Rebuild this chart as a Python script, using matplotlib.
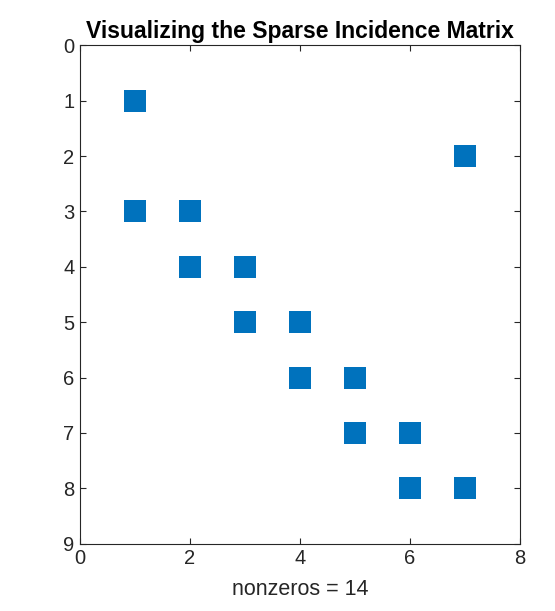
import numpy as np
import matplotlib
matplotlib.use('Agg')
import matplotlib.pyplot as plt

plt.rcParams['font.family'] = ['Liberation Sans', 'DejaVu Sans']

# nonzero entries of the incidence matrix (column, row)
cols = [1, 7, 1, 2, 2, 3, 3, 4, 4, 5, 5, 6, 6, 7]
rows = [1, 2, 3, 3, 4, 4, 5, 5, 6, 6, 7, 7, 8, 8]
xticks = [0, 2, 4, 6, 8]
yticks = [0, 1, 2, 3, 4, 5, 6, 7, 8, 9]

fig = plt.figure(figsize=(5.55, 6.11), dpi=100)
ax = fig.add_axes([0.144, 0.110, 0.793, 0.816])

ax.plot(cols, rows, 's', color='#0072BD', markersize=15.5, markeredgewidth=0)

ax.set_xlim(0, 8)
ax.set_ylim(9, 0)
ax.set_xticks(xticks)
ax.set_yticks(yticks)
ax.tick_params(direction='in', top=True, right=True, length=4, width=0.8,
               colors='#262626', labelsize=14.5, labelcolor='#262626', pad=4)
for s in ax.spines.values():
    s.set_color('#262626')
    s.set_linewidth(0.8)

ax.set_xlabel('nonzeros = 14', fontsize=15.5, color='#262626', labelpad=8)
ax.set_title('Visualizing the Sparse Incidence Matrix', fontsize=16.5,
             fontweight='bold', pad=5)

fig.savefig('out.png', dpi=100)
